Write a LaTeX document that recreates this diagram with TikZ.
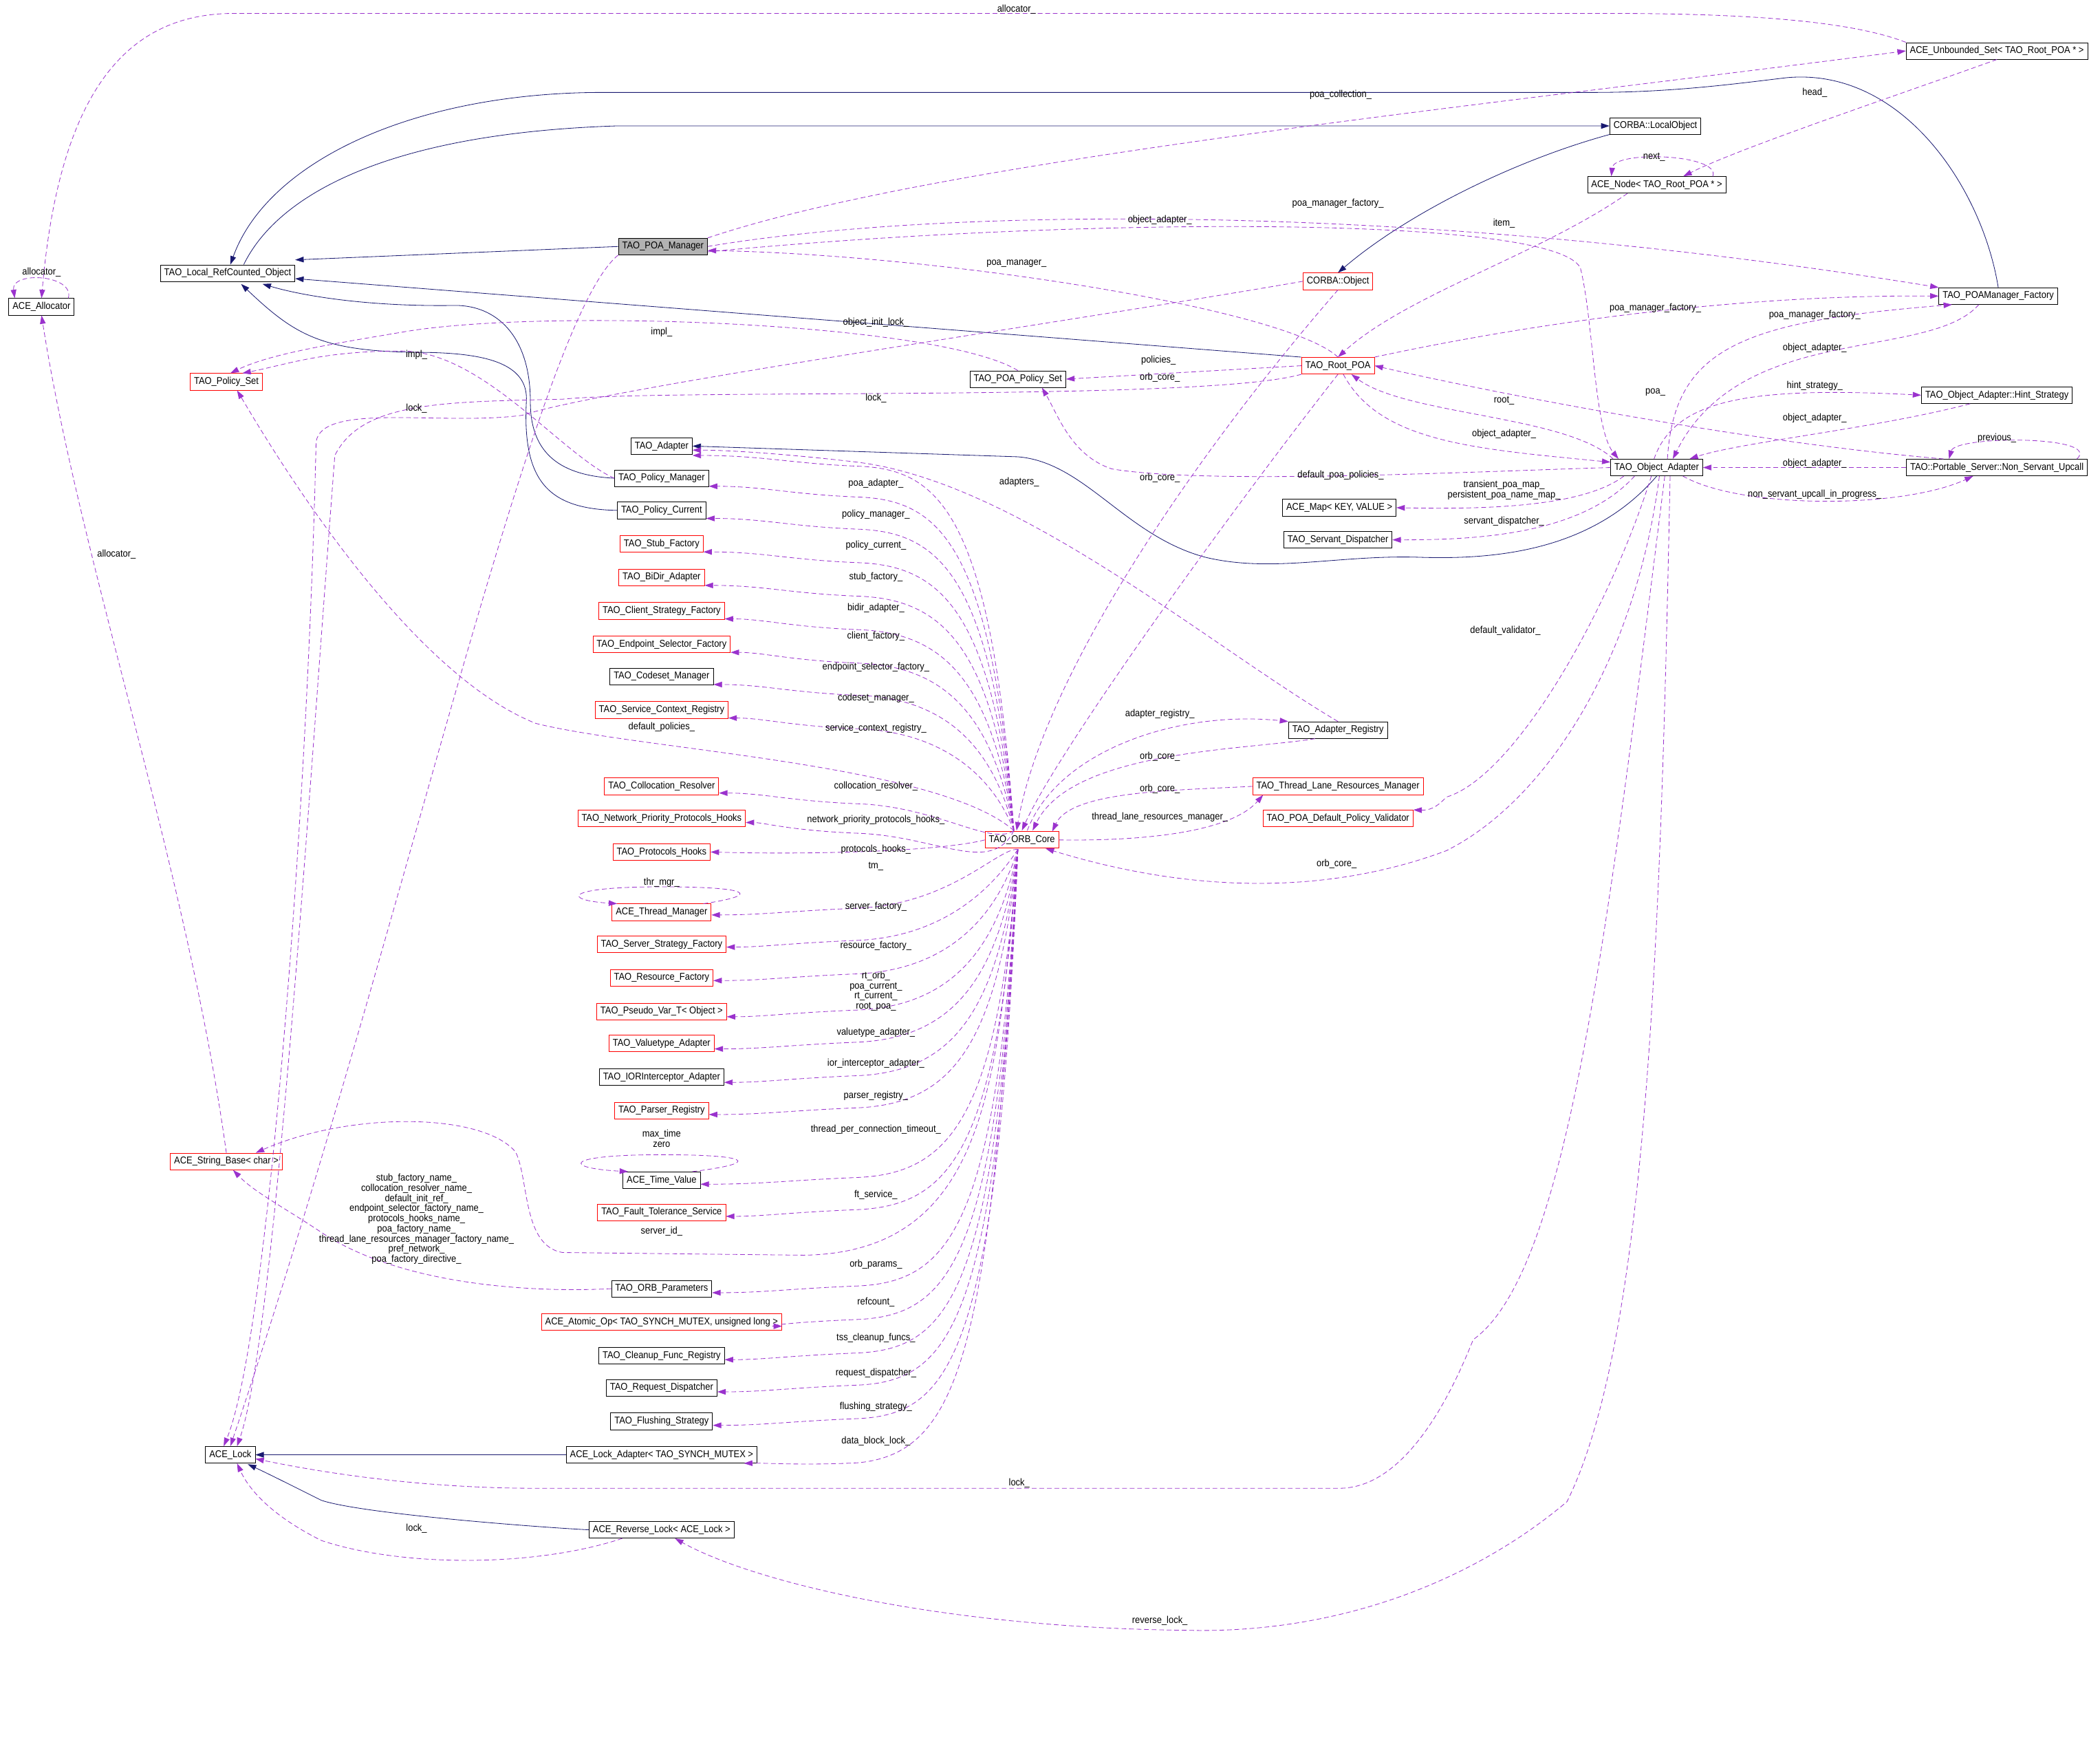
\documentclass[tikz,border=0pt]{standalone}
\usepackage{fontspec}
\setmainfont{Liberation Sans}[FakeStretch=0.9]
\usetikzlibrary{arrows.meta,calc}
\definecolor{depc}{HTML}{9A32CD}
\definecolor{navyc}{HTML}{191970}
\begin{document}
\begin{tikzpicture}[x=0.05cm,y=-0.05cm,
  every node/.style={font=\fontsize{10.5}{10.8}\selectfont},
  cls/.style={draw=black,fill=white,line width=0.6pt,inner xsep=4pt,inner ysep=0pt,minimum height=0.62cm},
  rcls/.style={cls,draw=red},
  gcls/.style={cls,fill=black!30},
  lbl/.style={inner sep=1pt,align=center},
  dep/.style={draw=depc,line width=0.6pt,dash pattern=on 5pt off 3pt,-{Triangle[length=9pt,width=6pt]},color=depc},
  inh/.style={draw=navyc,line width=0.6pt,-{Triangle[length=9pt,width=6pt]},color=navyc}]
\useasboundingbox (0,0) rectangle (1568,1300);
% ---------- nodes ----------
\node[cls] (al) at (31,229) {ACE\_Allocator};
\node[cls] (lro) at (170,204) {TAO\_Local\_RefCounted\_Object};
\node[gcls] (pom) at (495,184) {TAO\_POA\_Manager};
\node[rcls] (ps) at (169,285) {TAO\_Policy\_Set};
\node[cls] (us) at (1491,38) {ACE\_Unbounded\_Set< TAO\_Root\_POA * >};
\node[cls] (lo) at (1236,94) {CORBA::LocalObject};
\node[cls] (an) at (1237,138) {ACE\_Node< TAO\_Root\_POA * >};
\node[rcls] (co) at (999,210) {CORBA::Object};
\node[cls] (pmf) at (1492,221) {TAO\_POAManager\_Factory};
\node[rcls] (rp) at (999,273) {TAO\_Root\_POA};
\node[cls] (pps) at (760,283) {TAO\_POA\_Policy\_Set};
\node[cls] (hs) at (1491,295) {TAO\_Object\_Adapter::Hint\_Strategy};
\node[cls] (oa) at (1237,349) {TAO\_Object\_Adapter};
\node[cls] (nsu) at (1491,349) {TAO::Portable\_Server::Non\_Servant\_Upcall};
\node[cls] (map) at (1000,379) {ACE\_Map< KEY, VALUE >};
\node[cls] (sd) at (999,403) {TAO\_Servant\_Dispatcher};
\node[cls] (ar) at (999,545) {TAO\_Adapter\_Registry};
\node[rcls] (tl) at (999,587) {TAO\_Thread\_Lane\_Resources\_Manager};
\node[rcls] (dv) at (999,611) {TAO\_POA\_Default\_Policy\_Validator};
\node[rcls] (core) at (763,627) {TAO\_ORB\_Core};
\node[rcls] (sb) at (169,867) {ACE\_String\_Base< char >};
\node[cls] (lk) at (172,1086) {ACE\_Lock};
\node[cls] (rl) at (494,1142) {ACE\_Reverse\_Lock< ACE\_Lock >};
\node[cls] (ad) at (494,333) {TAO\_Adapter};
\node[cls] (pm) at (494,357) {TAO\_Policy\_Manager};
\node[cls] (pc) at (494,381) {TAO\_Policy\_Current};
\node[rcls] (sf) at (494,406) {TAO\_Stub\_Factory};
\node[rcls] (bd) at (494,431) {TAO\_BiDir\_Adapter};
\node[rcls] (csf) at (494,456) {TAO\_Client\_Strategy\_Factory};
\node[rcls] (esf) at (494,481) {TAO\_Endpoint\_Selector\_Factory};
\node[cls] (cm) at (494,505) {TAO\_Codeset\_Manager};
\node[rcls] (scr) at (494,530) {TAO\_Service\_Context\_Registry};
\node[rcls] (cr) at (494,587) {TAO\_Collocation\_Resolver};
\node[rcls] (np) at (494,611) {TAO\_Network\_Priority\_Protocols\_Hooks};
\node[rcls] (ph) at (494,636) {TAO\_Protocols\_Hooks};
\node[rcls] (tm) at (494,681) {ACE\_Thread\_Manager};
\node[rcls] (ssf) at (494,705) {TAO\_Server\_Strategy\_Factory};
\node[rcls] (rf) at (494,730) {TAO\_Resource\_Factory};
\node[rcls] (pv) at (494,755) {TAO\_Pseudo\_Var\_T< Object >};
\node[rcls] (va) at (494,779) {TAO\_Valuetype\_Adapter};
\node[cls] (ior) at (494,804) {TAO\_IORInterceptor\_Adapter};
\node[rcls] (pr) at (494,829) {TAO\_Parser\_Registry};
\node[cls] (tv) at (494,881) {ACE\_Time\_Value};
\node[rcls] (ft) at (494,905) {TAO\_Fault\_Tolerance\_Service};
\node[cls] (op) at (494,962) {TAO\_ORB\_Parameters};
\node[rcls] (ao) at (494,987) {ACE\_Atomic\_Op< TAO\_SYNCH\_MUTEX, unsigned long >};
\node[cls] (cfr) at (494,1012) {TAO\_Cleanup\_Func\_Registry};
\node[cls] (rd) at (494,1036) {TAO\_Request\_Dispatcher};
\node[cls] (fs) at (494,1061) {TAO\_Flushing\_Strategy};
\node[cls] (la) at (494,1086) {ACE\_Lock\_Adapter< TAO\_SYNCH\_MUTEX >};
\coordinate (cu) at (757,620);
\coordinate (cd) at (760,634);
\coordinate (lrot1) at (172,197.5);
\coordinate (lrot2) at (182,197.5);
% ---------- inheritance ----------
\draw[inh] (pom.west) -- (lro.east |- 0,194);
\draw[inh] (rp.north west) -- (lro.east |- 0,208);
\draw[inh] (lrot2) .. controls (205,150) and (280,100) .. (460,94) -- (lo.west);
\draw[inh] (pmf.north) .. controls (1480,140) and (1420,50) .. (1334,58) .. controls (1300,62) and (1250,69) .. (1190,69) -- (450,69) .. controls (310,69) and (200,120) .. (lrot1);
\draw[inh] (lo.south west) .. controls (1130,120) and (1050,160) .. (co.north);
\draw[inh] (pm.west) .. controls (420,355) and (396,340) .. (396,300) .. controls (396,250) and (370,228) .. (340,228) .. controls (280,229) and (230,222) .. (196,212);
\draw[inh] (pc.west) .. controls (410,380) and (390,360) .. (393,300) .. controls (395,270) and (360,263) .. (310,263) .. controls (240,262) and (220,250) .. (180,212);
\draw[inh] (oa.south) .. controls (1190,410) and (1120,418) .. (1060,416) .. controls (1000,414) and (950,428) .. (900,416) .. controls (840,400) and (810,345) .. (760,341) -- (ad.east);
\draw[inh] (la.west) -- (lk.east);
\draw[inh] (rl.west) .. controls (400,1140) and (270,1130) .. (240,1120) .. controls (220,1110) and (200,1100) .. (185,1093);
% ---------- top area dependencies ----------
\draw[dep] (us.north west) .. controls (1380,15) and (1300,10) .. (1200,10) -- (175,10) .. controls (100,10) and (45,60) .. (al.north);
\node[lbl] (l1) at (759,7) {allocator\_};
\draw[dep] ($(al.north)+(20,0)$) .. controls (56,205) and (8,202) .. ($(al.north)+(-20,0)$);
\node[lbl] (l2) at (31,203) {allocator\_};
\draw[dep] (sb.north) .. controls (140,650) and (60,420) .. (al.south);
\node[lbl] (l3) at (87,414) {allocator\_};
\draw[dep] (pom.north east) .. controls (700,120) and (1100,80) .. (us.west);
\node[lbl] (l4) at (1001,71) {poa\_collection\_};
\draw[dep] (pom.east) .. controls (700,155) and (1050,150) .. (pmf.north west);
\node[lbl] (l5) at (999,152) {poa\_manager\_factory\_};
\draw[dep] ($(pom.east)+(0,4)$) .. controls (800,162) and (1160,160) .. (1180,200) .. controls (1190,240) and (1190,320) .. ($(oa.north west)+(6,0)$);
\node[lbl] (l6) at (866,164) {object\_adapter\_};
\draw[dep] (rp.north) .. controls (960,230) and (700,190) .. ($(pom.east)+(0,3)$);
\node[lbl] (l7) at (759,197) {poa\_manager\_};
\draw[dep] (pom.south west) .. controls (400,240) and (300,700) .. (lk.north);
\draw[dep] (co.west) .. controls (800,240) and (450,290) .. (390,310) .. controls (330,318) and (240,300) .. (236,330) .. controls (230,600) and (200,1000) .. ($(lk.north)+(-5,0)$);
\node[lbl] (l8) at (654,241) {object\_init\_lock\_};
\draw[dep] (rp.south west) .. controls (900,300) and (500,290) .. (420,298) .. controls (330,300) and (270,300) .. (250,340) .. controls (230,600) and (205,1000) .. ($(lk.north)+(5,0)$);
\node[lbl] (l9) at (654,297) {lock\_};
\node[lbl] (l10) at (311,305) {lock\_};
\draw[dep] (pps.north) .. controls (700,240) and (400,230) .. (300,248) .. controls (240,258) and (200,265) .. ($(ps.north)+(3,0)$);
\node[lbl] (l11) at (494,248) {impl\_};
\draw[dep] (pm.west) .. controls (420,340) and (360,262) .. (300,262) .. controls (240,262) and (215,272) .. ($(ps.north)+(12,0)$);
\node[lbl] (l12) at (311,265) {impl\_};
\draw[dep] (rp.west) -- (pps.east);
\node[lbl] (l13) at (865,269) {policies\_};
\draw[dep] (oa.west) .. controls (1100,352) and (900,362) .. (830,350) .. controls (800,340) and (790,310) .. ($(pps.south)+(18,0)$);
\node[lbl] (l14) at (1001,355) {default\_poa\_policies\_};
\draw[dep] (cu) .. controls (700,570) and (480,560) .. (400,540) .. controls (300,500) and (200,330) .. ($(ps.south)+(8,0)$);
\node[lbl] (l15) at (494,543) {default\_policies\_};
\draw[dep] (co.south) .. controls (900,330) and (780,500) .. ($(cu)+(2,0)$);
\node[lbl] (l16) at (866,282) {orb\_core\_};
\draw[dep] (rp.south) .. controls (920,380) and (790,560) .. ($(cu)+(6,0)$);
\node[lbl] (l17) at (866,357) {orb\_core\_};
% ACE_Node
\draw[dep] ($(an.north east)+(-10,0)$) .. controls (1285,115) and (1205,112) .. ($(an.north west)+(18,0)$);
\node[lbl] (l18) at (1235,117) {next\_};
\draw[dep] (us.south) .. controls (1420,70) and (1300,110) .. ($(an.north east)+(-32,0)$);
\node[lbl] (l19) at (1355,69) {head\_};
\draw[dep] ($(an.south west)+(30,0)$) .. controls (1150,190) and (1050,220) .. (rp.north);
\node[lbl] (l20) at (1123,167) {item\_};
\draw[dep] (rp.north east) .. controls (1150,240) and (1300,220) .. (pmf.west);
\node[lbl] (l21) at (1236,230) {poa\_manager\_factory\_};
\draw[dep] ($(oa.north)+(8,0)$) .. controls (1250,260) and (1300,240) .. ($(pmf.south west)+(10,0)$);
\node[lbl] (l22) at (1355,235) {poa\_manager\_factory\_};
\draw[dep] ($(pmf.south west)+(30,0)$) .. controls (1440,270) and (1300,240) .. ($(oa.north)+(12,0)$);
\node[lbl] (l23) at (1355,260) {object\_adapter\_};
\draw[dep] ($(oa.north)+(-2,0)$) .. controls (1250,300) and (1300,288) .. (hs.west);
\node[lbl] (l24) at (1355,288) {hint\_strategy\_};
\draw[dep] ($(hs.south)+(-20,0)$) .. controls (1400,320) and (1300,330) .. ($(oa.north east)+(-10,0)$);
\node[lbl] (l25) at (1355,312) {object\_adapter\_};
\draw[dep] (nsu.west) -- (oa.east);
\node[lbl] (l26) at (1355,346) {object\_adapter\_};
\draw[dep] ($(oa.south east)+(-15,0)$) .. controls (1300,380) and (1420,380) .. ($(nsu.south west)+(50,0)$);
\node[lbl] (l27) at (1355,369) {non\_servant\_upcall\_in\_progress\_};
\draw[dep] ($(nsu.north east)+(-8,0)$) .. controls (1570,325) and (1460,325) .. ($(nsu.north west)+(32,0)$);
\node[lbl] (l28) at (1491,327) {previous\_};
\draw[dep] ($(nsu.north west)+(28,0)$) .. controls (1300,330) and (1100,290) .. (rp.east);
\node[lbl] (l29) at (1236,293) {poa\_};
\draw[dep] ($(oa.north west)+(2,0)$) .. controls (1170,310) and (1050,310) .. ($(rp.south)+(10,0)$);
\node[lbl] (l30) at (1123,299) {root\_};
\draw[dep] ($(rp.south)+(4,0)$) .. controls (1030,330) and (1100,335) .. ($(oa.west)+(0,-4)$);
\node[lbl] (l31) at (1123,324) {object\_adapter\_};
\draw[dep] ($(oa.south west)+(10,0)$) .. controls (1180,380) and (1100,380) .. (map.east);
\node[lbl] (l32) at (1123,366) {transient\_poa\_map\_\\persistent\_poa\_name\_map\_};
\draw[dep] ($(oa.south west)+(18,0)$) .. controls (1180,400) and (1100,403) .. (sd.east);
\node[lbl] (l33) at (1123,389) {servant\_dispatcher\_};
\draw[dep] ($(oa.south)+(-4,0)$) .. controls (1200,460) and (1130,580) .. (1080,595) .. controls (1075,600) and (1070,605) .. (dv.north east);
\node[lbl] (l34) at (1124,471) {default\_validator\_};
\draw[dep] ($(oa.south)+(2,0)$) .. controls (1220,500) and (1150,600) .. (1080,635) .. controls (1000,665) and (900,670) .. ($(core.south east)+(-10,0)$);
\node[lbl] (l35) at (998,645) {orb\_core\_};
\draw[dep] ($(oa.south)+(6,0)$) .. controls (1200,700) and (1170,950) .. (1100,1000) .. controls (1060,1100) and (1020,1111) .. (1000,1111) -- (400,1111) .. controls (300,1111) and (220,1095) .. ($(lk.east)+(0,3)$);
\node[lbl] (l36) at (761,1107) {lock\_};
\draw[dep] ($(oa.south)+(10,0)$) .. controls (1240,700) and (1230,1000) .. (1170,1121) .. controls (1100,1180) and (1000,1220) .. (885,1217) .. controls (700,1215) and (560,1180) .. ($(rl.south)+(10,0)$);
\node[lbl] (l37) at (866,1210) {reverse\_lock\_};
\draw[dep] ($(rl.south west)+(25,0)$) .. controls (400,1170) and (300,1170) .. (240,1150) .. controls (200,1130) and (185,1110) .. ($(lk.south)+(5,0)$);
\node[lbl] (l38) at (311,1141) {lock\_};
% adapters / registry
\draw[dep] (ar.north) .. controls (900,480) and (760,360) .. (640,345) .. controls (580,338) and (540,336) .. ($(ad.east)+(0,3)$);
\node[lbl] (l39) at (761,360) {adapters\_};
\draw[dep] ($(cu)+(10,0)$) .. controls (790,560) and (880,530) .. (ar.north west);
\node[lbl] (l40) at (866,533) {adapter\_registry\_};
\draw[dep] ($(ar.south west)+(20,0)$) .. controls (930,560) and (800,560) .. ($(cu)+(14,0)$);
\node[lbl] (l41) at (866,565) {orb\_core\_};
\draw[dep] (tl.west) .. controls (880,590) and (800,590) .. ($(core.north east)+(-5,0)$);
\node[lbl] (l42) at (866,589) {orb\_core\_};
\draw[dep] (core.east) .. controls (860,628) and (920,620) .. ($(tl.south west)+(8,0)$);
\node[lbl] (l43) at (866,610) {thread\_lane\_resources\_manager\_};
% ---------- ORB_Core to left column ----------
\foreach \n/\y in {ad/340,pm/363,pc/387,sf/412,bd/437,csf/462,esf/487,cm/511,scr/536,cr/592,np/614}{
  \draw[dep] (cu) .. controls (740,\y+40) and (700,\y+10) .. (640,\y+8) .. controls (590,\y+6) and (570,\y) .. (\n.east |- 0,\y);
}
\draw[dep] (core.west) .. controls (700,636) and (600,638) .. (ph.east);
\foreach \n/\y in {tm/683,ssf/707,rf/732,pv/759,va/783,ior/808,pr/832,tv/884,ft/908,op/965,ao/990,cfr/1015,rd/1039,fs/1064}{
  \draw[dep] (cd) .. controls (745,\y-50) and (710,\y-8) .. (640,\y-5) .. controls (590,\y-3) and (570,\y) .. (\n.east |- 0,\y);
}
\draw[dep] (cd) .. controls (740,1000) and (720,1085) .. (640,1092) .. controls (600,1094) and (570,1092) .. ($(la.south east)+(-10,0)$);
\draw[dep] (cd) .. controls (745,800) and (740,935) .. (600,937) -- (420,935) .. controls (390,930) and (395,880) .. (385,860) .. controls (360,830) and (260,830) .. ($(sb.north east)+(-20,0)$);
\node[lbl] (l44) at (494,919) {server\_id\_};
\draw[dep] (op.west) .. controls (400,965) and (300,960) .. (240,920) .. controls (210,900) and (190,890) .. ($(sb.south)+(5,0)$);
\node[lbl] (l45) at (311,910) {stub\_factory\_name\_\\collocation\_resolver\_name\_\\default\_init\_ref\_\\endpoint\_selector\_factory\_name\_\\protocols\_hooks\_name\_\\poa\_factory\_name\_\\thread\_lane\_resources\_manager\_factory\_name\_\\pref\_network\_\\poa\_factory\_directive\_};
\draw[dep] ($(tm.north east)+(-6,0)$) .. controls (570,668) and (560,662) .. (494,662) .. controls (420,662) and (420,672) .. ($(tm.north west)+(4,0)$);
\node[lbl] (l46) at (494,659) {thr\_mgr\_};
\draw[dep] ($(tv.north east)+(-6,0)$) .. controls (570,868) and (560,862) .. (494,862) .. controls (420,862) and (420,872) .. ($(tv.north west)+(4,0)$);
\node[lbl] (l47) at (494,850) {max\_time\\zero};
% labels of ORB_Core edges
\node[lbl] at (654,361) {poa\_adapter\_};
\node[lbl] at (654,384) {policy\_manager\_};
\node[lbl] at (654,407) {policy\_current\_};
\node[lbl] at (654,431) {stub\_factory\_};
\node[lbl] at (654,454) {bidir\_adapter\_};
\node[lbl] at (654,475) {client\_factory\_};
\node[lbl] at (654,498) {endpoint\_selector\_factory\_};
\node[lbl] at (654,521) {codeset\_manager\_};
\node[lbl] at (654,544) {service\_context\_registry\_};
\node[lbl] at (654,587) {collocation\_resolver\_};
\node[lbl] at (654,612) {network\_priority\_protocols\_hooks\_};
\node[lbl] at (654,634) {protocols\_hooks\_};
\node[lbl] at (654,647) {tm\_};
\node[lbl] at (654,677) {server\_factory\_};
\node[lbl] at (654,706) {resource\_factory\_};
\node[lbl] at (654,740) {rt\_orb\_\\poa\_current\_\\rt\_current\_\\root\_poa\_};
\node[lbl] at (654,771) {valuetype\_adapter\_};
\node[lbl] at (654,794) {ior\_interceptor\_adapter\_};
\node[lbl] at (654,818) {parser\_registry\_};
\node[lbl] at (654,843) {thread\_per\_connection\_timeout\_};
\node[lbl] at (654,892) {ft\_service\_};
\node[lbl] at (654,944) {orb\_params\_};
\node[lbl] at (654,972) {refcount\_};
\node[lbl] at (654,999) {tss\_cleanup\_funcs\_};
\node[lbl] at (654,1025) {request\_dispatcher\_};
\node[lbl] at (654,1050) {flushing\_strategy\_};
\node[lbl] at (654,1076) {data\_block\_lock\_};
\end{tikzpicture}
\end{document}
